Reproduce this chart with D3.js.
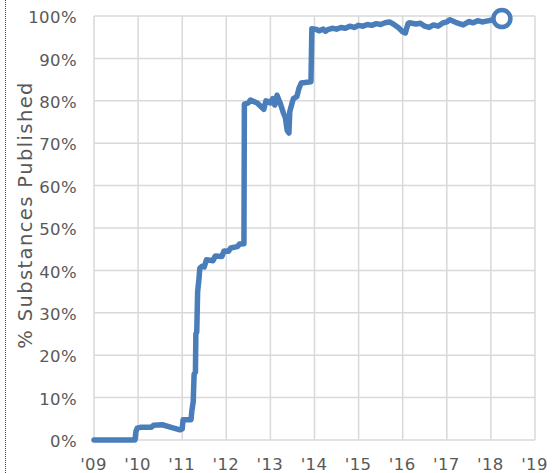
<!DOCTYPE html>
<html><head><meta charset="utf-8">
<script src="https://cdn.jsdelivr.net/npm/d3@7"></script>
<style>
html,body{margin:0;padding:0;background:#fff;}
svg{display:block;}
text{font-family:"DejaVu Sans",Verdana,sans-serif;fill:#595959;}
</style></head>
<body><svg id="chart" width="552" height="473"></svg>
<script>
const yearTicks = [2009,2010,2011,2012,2013,2014,2015,2016,2017,2018,2019];
const yearLabels = ["'09","'10","'11","'12","'13","'14","'15","'16","'17","'18","'19"];
const pctTicks = [0,10,20,30,40,50,60,70,80,90,100];
const seriesYears = [2009.0,2009.93,2009.95,2009.98,2010.05,2010.3,2010.35,2010.55,2010.75,2010.95,2011.0,2011.02,2011.2,2011.22,2011.25,2011.27,2011.3,2011.31,2011.33,2011.35,2011.38,2011.4,2011.45,2011.5,2011.55,2011.7,2011.75,2011.9,2011.95,2012.05,2012.1,2012.25,2012.3,2012.4,2012.41,2012.5,2012.55,2012.7,2012.85,2012.9,2013.0,2013.05,2013.1,2013.15,2013.22,2013.3,2013.34,2013.38,2013.42,2013.44,2013.48,2013.52,2013.6,2013.65,2013.7,2013.92,2013.94,2014.05,2014.1,2014.2,2014.25,2014.3,2014.4,2014.5,2014.6,2014.7,2014.8,2014.9,2015.0,2015.1,2015.2,2015.3,2015.4,2015.5,2015.6,2015.7,2015.8,2015.9,2016.0,2016.06,2016.12,2016.15,2016.3,2016.4,2016.5,2016.6,2016.7,2016.8,2016.9,2017.0,2017.07,2017.2,2017.37,2017.5,2017.6,2017.7,2017.8,2017.9,2018.0,2018.25];
const seriesPct = [0,0,2.0,2.8,3.0,3.0,3.5,3.6,3.0,2.4,2.6,4.8,4.8,7,9,15.5,16,25,25.5,35,38,40.5,41,40.8,42.5,42.3,43.4,43.3,44.6,44.5,45.3,45.6,46.2,46.3,79.2,79.5,80.2,79.5,78,80,79.5,80.5,79,81.3,79.5,77,76,73,72.4,77.5,79,80.5,81,83,84.2,84.5,97,96.8,96.5,96.9,96.4,96.8,97.1,96.9,97.3,97.1,97.6,97.3,97.8,97.6,98.0,97.8,98.2,98.0,98.4,98.6,98.0,97.3,96.3,96.0,98.2,98.4,98.1,98.3,97.6,97.3,97.9,97.6,98.3,98.6,99.1,98.5,97.9,98.7,98.4,98.9,98.6,98.8,99.0,99.4];

const svg = d3.select("#chart");
const L = 94, R = 535, T = 16, B = 440;
const x = d3.scaleLinear().domain([2009,2019]).range([L,R]);
const y = d3.scaleLinear().domain([0,100]).range([B,T]);
const blue = "#4a7ebb";

// left dotted frame
svg.append("line").attr("x1",5.5).attr("x2",5.5).attr("y1",0).attr("y2",473)
  .attr("stroke","#444").attr("stroke-width",1).attr("stroke-dasharray","1,1");

// grid
const g = svg.append("g");
g.selectAll(".vg").data(yearTicks).enter().append("line")
  .attr("x1",d=>x(d)).attr("x2",d=>x(d)).attr("y1",T).attr("y2",B)
  .attr("stroke","#d9d9d9").attr("stroke-width",1.5);
g.selectAll(".hg").data(pctTicks).enter().append("line")
  .attr("x1",L).attr("x2",R).attr("y1",d=>y(d)).attr("y2",d=>y(d))
  .attr("stroke","#d9d9d9").attr("stroke-width",1.5);

// axes via d3
const yAxis = d3.axisLeft(y).tickValues(pctTicks).tickFormat(d=>d+"%").tickSize(0).tickPadding(17);
const ya = svg.append("g").attr("transform",`translate(${L},0)`).call(yAxis);
ya.select(".domain").remove();
ya.selectAll("text").style("font-size","16.5px").style("letter-spacing","0.4px")
  .attr("fill","#595959").attr("font-family","DejaVu Sans").attr("dy","0.4em");

const xAxis = d3.axisBottom(x).tickValues(yearTicks).tickFormat((d,i)=>yearLabels[i]).tickSize(0).tickPadding(18);
const xa = svg.append("g").attr("transform",`translate(0,${B})`).call(xAxis);
xa.select(".domain").remove();
xa.selectAll("text").style("font-size","16.5px").style("letter-spacing","0.4px")
  .attr("fill","#595959").attr("font-family","DejaVu Sans").attr("dx","-1px");

// title
svg.append("text").attr("transform","translate(32,215) rotate(-90)")
  .attr("text-anchor","middle").style("font-size","19.5px").style("letter-spacing","1.4px")
  .text("% Substances Published");

// series
const data = seriesYears.map((yr,i)=>[yr,seriesPct[i]]);
const line = d3.line().x(d=>x(d[0])).y(d=>y(d[1]));
svg.append("path").datum(data).attr("d",line).attr("fill","none")
  .attr("stroke",blue).attr("stroke-width",5.5).attr("stroke-linejoin","round").attr("stroke-linecap","round");
const last = data[data.length-1];
svg.append("circle").attr("cx",x(last[0])).attr("cy",y(last[1])).attr("r",8.5)
  .attr("fill","#fff").attr("stroke",blue).attr("stroke-width",4.5);
</script></body></html>
